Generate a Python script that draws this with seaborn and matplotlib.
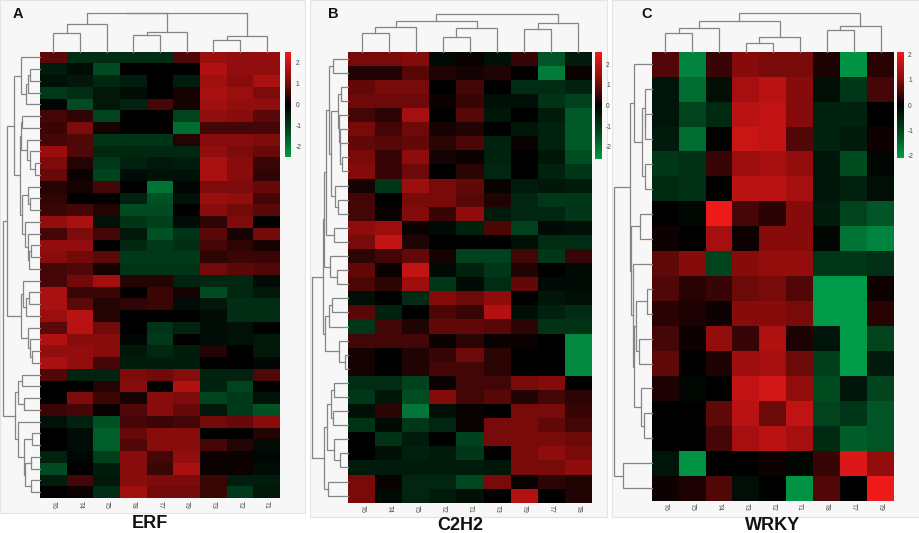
import numpy as np
import pandas as pd
import matplotlib
matplotlib.use("Agg")
import matplotlib.pyplot as plt
from matplotlib.colors import LinearSegmentedColormap
from matplotlib.patches import Rectangle
import seaborn as sns

# ---------------- data ----------------
erf_cols = ["T6", "T4", "T5", "T8", "T7", "T9", "T3", "T2", "T1"]
erf_values = [
    [0.8, -0.8, -0.8, -0.8, -0.8, 0.7, 1.4, 1.3, 1.3],
    [-0.5, -0.2, -1.3, 0.0, 0.0, 0.0, 1.7, 1.3, 1.3],
    [-0.3, -0.4, -0.7, -0.5, 0.0, -0.5, 1.5, 1.2, 1.6],
    [-1.0, -0.8, -0.4, -0.2, 0.0, 0.2, 1.6, 1.4, 1.1],
    [-0.1, -1.3, -0.4, -0.6, 0.6, 0.2, 1.5, 1.3, 1.3],
    [0.6, 0.4, -1.2, 0.0, 0.0, -1.2, 1.3, 1.2, 0.8],
    [0.5, 1.1, 0.2, 0.0, 0.0, -1.8, 0.6, 0.6, 0.6],
    [0.6, 0.7, -0.9, -0.9, -0.9, 0.3, 1.2, 1.2, 1.1],
    [1.4, 0.7, -0.7, -0.7, -0.7, -0.7, 1.3, 1.1, 0.9],
    [1.1, 0.3, -1.0, -0.6, -0.4, -0.5, 1.6, 1.2, 0.5],
    [0.9, 0.1, -1.2, -0.2, -0.3, -0.3, 1.6, 1.2, 0.4],
    [0.3, 0.2, 0.6, 0.0, -1.9, -0.1, 1.1, 1.1, 0.9],
    [0.4, 0.0, 0.0, -0.6, -1.4, -0.3, 1.4, 1.3, 0.6],
    [0.5, 0.6, 0.3, -1.3, -1.3, 0.0, 1.2, 1.0, 0.8],
    [1.3, 1.6, -0.3, -0.9, -1.1, -0.2, 0.4, 1.1, 0.0],
    [0.6, 1.1, 0.6, -0.4, -1.4, -0.9, 0.8, 0.2, 1.0],
    [1.3, 1.3, 0.0, -0.7, -1.0, -0.8, 0.6, 0.4, 0.2],
    [1.2, 1.0, 0.8, -1.0, -1.0, -1.0, 0.4, 0.5, 0.5],
    [0.6, 0.7, 0.2, -0.9, -0.9, -0.9, 1.0, 0.8, 0.7],
    [0.6, 1.0, 1.5, 0.3, 0.3, -0.6, -0.7, -0.7, -0.2],
    [1.6, 0.5, 0.5, 0.0, 0.5, 0.2, -1.3, -0.7, -0.4],
    [1.6, 0.8, 0.3, 0.4, 0.5, -0.2, -0.4, -0.8, -0.8],
    [1.4, 1.8, 0.3, 0.0, 0.0, 0.0, -0.2, -0.8, -0.8],
    [0.8, 1.8, 1.0, 0.0, -0.9, -0.6, -0.2, -0.3, 0.0],
    [1.7, 1.2, 1.2, -0.1, -1.0, 0.0, -0.2, -0.3, -0.4],
    [1.3, 1.3, 1.2, -0.4, -0.7, -0.5, 0.3, 0.0, -0.4],
    [1.6, 1.3, 0.6, -0.5, -0.5, -0.5, 0.0, 0.0, -0.1],
    [0.7, -0.6, -0.6, 1.1, 1.0, 1.2, -0.6, -0.6, 0.7],
    [0.0, 0.0, 0.3, 1.2, 0.0, 1.7, -0.6, -1.2, 0.0],
    [0.0, 1.1, 0.5, 0.2, 1.2, 1.1, -1.2, -1.0, -0.3],
    [0.5, 0.6, 0.1, 0.7, 1.2, 0.9, -0.4, -1.0, -1.4],
    [-0.3, -0.6, -1.4, 0.6, 0.5, 0.6, 1.0, 0.9, 1.2],
    [0.0, -0.2, -1.6, 0.9, 1.2, 1.2, 0.0, 0.0, 0.3],
    [0.0, -0.2, -1.6, 0.7, 1.2, 1.2, 0.6, 0.3, -0.2],
    [-0.6, -0.1, -1.1, 1.2, 0.6, 1.3, 0.1, 0.1, -0.1],
    [-1.3, 0.0, -0.5, 1.2, 0.5, 1.6, 0.1, 0.1, -0.2],
    [-0.5, 0.6, -0.4, 1.2, 1.1, 1.1, 0.5, -0.5, -0.5],
    [0.0, 0.1, -0.8, 1.5, 1.0, 1.0, 0.5, -1.0, -0.4],
]

c2h2_cols = ["T6", "T4", "T5", "T2", "T1", "T3", "T9", "T7", "T8"]
c2h2_values = [
    [1.1, 1.1, 1.2, -0.2, 0.1, -0.3, 0.5, -1.5, -0.5],
    [0.3, 0.3, 0.8, 0.3, 0.2, 0.3, 0.0, -2.1, 0.1],
    [0.9, 1.1, 1.1, 0.0, 0.6, 0.0, -0.8, -0.8, -0.6],
    [1.0, 1.0, 1.0, 0.1, 0.5, -0.3, -0.3, -0.9, -1.2],
    [0.6, 0.4, 1.6, 0.0, 0.8, -0.4, 0.0, -0.5, -1.6],
    [1.1, 0.6, 1.0, 0.2, 0.3, 0.0, -0.4, -0.6, -1.6],
    [0.9, 0.8, 0.9, 0.4, 0.7, -0.6, 0.1, -0.6, -1.6],
    [1.1, 0.5, 1.3, 0.2, 0.1, -0.6, 0.0, -0.4, -1.4],
    [1.2, 0.5, 1.0, 0.0, 0.4, -0.7, 0.0, -0.6, -1.0],
    [0.2, -1.0, 1.5, 1.1, 0.9, 0.1, -0.5, -0.4, -0.5],
    [0.6, 0.0, 1.1, 1.1, 0.8, 0.3, -0.7, -1.0, -1.0],
    [0.6, 0.1, 1.2, 0.5, 1.3, -0.5, -0.7, -0.7, -1.0],
    [1.3, 1.5, 0.1, -0.2, -0.6, 0.7, -1.2, -0.2, -0.3],
    [1.1, 2.0, 0.3, 0.0, 0.0, 0.0, -0.3, -0.8, -0.8],
    [0.4, 0.6, 0.9, 0.2, -1.2, -1.2, 0.6, -1.0, 0.5],
    [0.9, 0.1, 2.0, -0.2, -0.6, -1.0, 0.3, 0.0, -0.2],
    [0.7, 0.4, 1.5, -1.0, -0.2, -0.8, 0.9, -0.2, -0.2],
    [-0.3, 0.0, -0.8, 1.2, 1.0, 1.3, 0.0, -0.4, -0.3],
    [0.8, -0.6, 0.0, 0.7, 0.5, 1.8, -0.3, -0.6, -0.8],
    [-1.0, 0.6, 0.3, 0.9, 0.9, 0.8, 0.4, -0.9, -0.9],
    [0.6, 0.6, 0.6, 0.1, 0.4, 0.1, 0.1, 0.0, -2.3],
    [0.2, 0.0, 0.3, 0.5, 1.0, 0.4, 0.0, 0.0, -2.3],
    [0.2, 0.0, 0.3, 0.6, 0.6, 0.4, 0.0, 0.0, -2.3],
    [-0.8, -0.8, -1.2, 0.1, 0.6, 0.6, 1.1, 1.2, 0.0],
    [-1.0, -0.4, -1.4, 1.2, 0.6, 0.8, 0.3, 0.6, 0.4],
    [-0.3, 0.4, -2.0, -0.3, 0.1, 0.0, 1.1, 1.1, 0.5],
    [-0.9, -0.2, -1.0, -0.7, 0.1, 1.1, 1.1, 0.9, 0.6],
    [0.0, -0.9, -0.5, 0.0, -1.2, 1.1, 1.1, 1.1, 1.0],
    [0.0, -0.3, -0.6, -0.5, -1.0, 0.0, 1.1, 1.3, 1.1],
    [-0.5, -0.5, -0.5, -0.5, -0.5, -0.4, 1.1, 1.1, 1.3],
    [1.1, 0.1, -0.7, -0.7, -1.3, 1.1, 0.1, 0.4, 0.3],
    [1.1, -0.2, -0.7, -0.5, -0.3, 0.0, 1.8, 0.0, 0.3],
]

wrky_cols = ["T6", "T5", "T4", "T3", "T2", "T1", "T8", "T7", "T9"]
wrky_values = [
    [0.6, -1.8, 0.4, 1.0, 0.9, 0.9, 0.2, -2.0, 0.3],
    [-0.3, -1.5, -0.2, 1.3, 1.5, 1.0, -0.2, -0.8, 0.5],
    [-0.3, -1.0, -0.6, 1.5, 1.6, 1.0, -0.5, -0.5, 0.0],
    [-0.4, -1.5, 0.0, 1.7, 1.6, 0.6, -0.5, -0.4, 0.1],
    [-0.8, -0.7, 0.4, 1.2, 1.3, 1.1, -0.3, -1.1, -0.1],
    [-0.6, -0.7, 0.0, 1.5, 1.5, 1.3, -0.3, -0.5, -0.2],
    [0.0, -0.1, 2.3, 0.5, 0.3, 1.0, -0.4, -1.0, -1.2],
    [0.1, 0.0, 1.3, 0.1, 1.0, 1.0, -0.1, -1.6, -1.8],
    [0.7, 1.0, -1.0, 1.0, 1.1, 1.1, -0.8, -0.8, -0.7],
    [0.6, 0.3, 0.4, 0.8, 0.9, 0.6, -2.1, -2.1, 0.1],
    [0.3, 0.2, 0.1, 1.0, 1.0, 0.9, -2.1, -2.1, 0.3],
    [0.5, 0.1, 1.1, 0.4, 1.4, 0.2, -0.3, -2.1, -1.0],
    [0.7, 0.0, 0.2, 1.2, 1.3, 0.8, -0.9, -2.1, -0.4],
    [0.2, -0.1, 0.0, 1.6, 1.8, 1.1, -1.1, -0.3, -1.0],
    [0.0, 0.0, 0.7, 1.5, 0.8, 1.6, -1.0, -0.8, -1.2],
    [0.0, 0.0, 0.5, 1.3, 1.5, 1.3, -0.6, -1.3, -1.2],
    [-0.3, -2.0, 0.0, 0.0, 0.1, -0.1, 0.4, 1.9, 1.1],
    [0.1, 0.2, 0.6, -0.2, 0.0, -2.0, 0.6, 0.0, 2.1],
]

titles = ["ERF", "C2H2", "WRKY"]
letters = ["A", "B", "C"]
color_limits = [2.5, 2.6, 2.1]
cbar_ticks = [-2, -1, 0, 1, 2]

# ---------------- helpers ----------------
W, H = 920, 533
fig = plt.figure(figsize=(W / 100, H / 100), dpi=100)
fig.patch.set_facecolor("white")

FONT = ["Liberation Sans", "DejaVu Sans"]
cmap = LinearSegmentedColormap.from_list(
    "gbr",
    [(0.0, "#009B48"), (0.25, "#00471F"), (0.5, "#000000"),
     (0.75, "#8E0C0C"), (1.0, "#EE1A1A")])
LINE = "#858585"


def ax_px(x0, y0, x1, y1):
    return fig.add_axes([x0 / W, 1 - y1 / H, (x1 - x0) / W, (y1 - y0) / H])


def constrained_linkage(X):
    """Average-linkage (Euclidean) clustering that only merges neighbours,
    so the leaf order stays the order shown in the heatmap."""
    X = np.asarray(X, dtype=float)
    n = len(X)
    D = np.sqrt(((X[:, None, :] - X[None, :, :]) ** 2).sum(-1))
    clusters = [{"m": [i], "pos": i + 0.5, "h": 0.0} for i in range(n)]
    segs = []
    while len(clusters) > 1:
        best = None
        for k in range(len(clusters) - 1):
            a, b = clusters[k], clusters[k + 1]
            d = D[np.ix_(a["m"], b["m"])].mean()
            if best is None or d < best[0]:
                best = (d, k)
        d, k = best
        a, b = clusters[k], clusters[k + 1]
        h = max(d, a["h"], b["h"])
        segs.append((a["pos"], a["h"], b["pos"], b["h"], h))
        clusters[k:k + 2] = [{"m": a["m"] + b["m"], "pos": (a["pos"] + b["pos"]) / 2, "h": h}]
    return segs, clusters[0]["h"]


def draw_col_dendro(ax, X, n):
    segs, top = constrained_linkage(np.asarray(X).T)
    for p1, h1, p2, h2, h in segs:
        ax.plot([p1, p1, p2, p2], [h1, h, h, h2], color=LINE, lw=0.9,
                solid_joinstyle="miter", clip_on=False)
    ax.set_xlim(0, n)
    ax.set_ylim(0, top)
    ax.axis("off")


def draw_row_dendro(ax, X, n):
    segs, top = constrained_linkage(X)
    for p1, h1, p2, h2, h in segs:
        ax.plot([h1, h, h, h2], [p1, p1, p2, p2], color=LINE, lw=0.9,
                solid_joinstyle="miter", clip_on=False)
    ax.set_ylim(n, 0)
    ax.set_xlim(top, 0)
    ax.axis("off")


# panel geometry in pixels
panels = [
    dict(bg=(0, 0, 305, 513), heat=(40, 51.5, 280, 498), rowd=(3, 51.5, 40, 498),
         cold=(40, 13, 280, 51.5), cbar=(284.7, 51.7, 291.3, 157.3),
         title=(150, 524), letter=(18, 14)),
    dict(bg=(310, 0, 607, 517), heat=(348.3, 51.7, 591.7, 502.7), rowd=(312, 51.7, 348.3, 502.7),
         cold=(348.3, 14, 591.7, 51.7), cbar=(595, 51.7, 602, 159.3),
         title=(460, 525), letter=(333, 14)),
    dict(bg=(612, 0, 920, 517), heat=(651.7, 51.7, 894, 500.7), rowd=(614, 51.7, 651.7, 500.7),
         cold=(651.7, 13.3, 894, 51.7), cbar=(897, 51.7, 904, 158.3),
         title=(773, 525), letter=(647, 14)),
]

datasets = [(erf_values, erf_cols), (c2h2_values, c2h2_cols), (wrky_values, wrky_cols)]

for i, (geo, (vals, cols)) in enumerate(zip(panels, datasets)):
    x0, y0, x1, y1 = geo["bg"]
    fig.patches.append(Rectangle((x0 / W, 1 - y1 / H), (x1 - x0) / W, (y1 - y0) / H,
                                 transform=fig.transFigure, facecolor="#f7f7f7",
                                 edgecolor="#e4e4e4", lw=0.8, zorder=-10))

    df = pd.DataFrame(vals, columns=cols)
    n_rows, n_cols = df.shape
    vmax = color_limits[i]

    ax = ax_px(*geo["heat"])
    cax = ax_px(*geo["cbar"])
    sns.heatmap(df, ax=ax, cmap=cmap, vmin=-vmax, vmax=vmax, cbar_ax=cax,
                xticklabels=cols, yticklabels=False, linewidths=0)
    ax.tick_params(axis="x", length=0, pad=2)
    ax.set_xticklabels(cols, rotation=270, fontsize=4.8, color="#444444", family=FONT)
    ax.set_ylabel("")
    ax.set_xlabel("")

    cb = ax.collections[0].colorbar
    cb.outline.set_visible(False)
    cb.set_ticks(cbar_ticks)
    cax.set_yticklabels([str(t) for t in cbar_ticks], fontsize=4.8, color="#444444", family=FONT)
    cax.tick_params(length=0, pad=3)

    axr = ax_px(*geo["rowd"])
    axr.patch.set_alpha(0)
    draw_row_dendro(axr, df.values, n_rows)

    axc = ax_px(*geo["cold"])
    axc.patch.set_alpha(0)
    draw_col_dendro(axc, df.values, n_cols)

    tx, ty = geo["title"]
    fig.text(tx / W, 1 - ty / H, titles[i], ha="center", va="center", fontsize=13,
             fontweight="bold", family=FONT, color="#111111")
    lx, ly = geo["letter"]
    fig.text(lx / W, 1 - ly / H, letters[i], ha="center", va="center", fontsize=10.5,
             fontweight="bold", family=FONT, color="#111111")

fig.savefig("out.png", dpi=100, facecolor="white")
